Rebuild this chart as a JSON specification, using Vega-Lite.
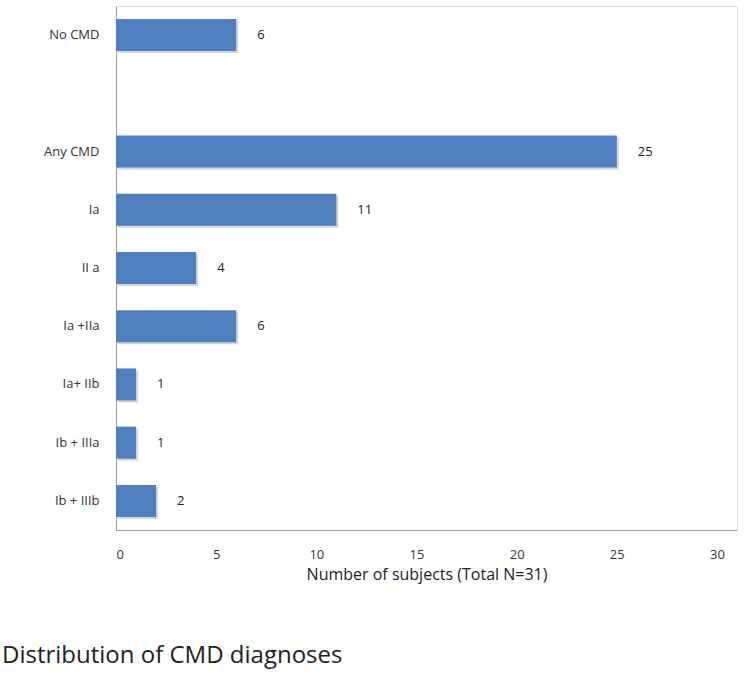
{
  "$schema": "https://vega.github.io/schema/vega-lite/v6.json",
  "width": 621,
  "height": 524,
  "autosize": {"type": "none"},
  "padding": {"left": 116, "top": 6, "right": 9, "bottom": 143},
  "background": "white",
  "title": {
    "text": "Distribution of CMD diagnoses",
    "orient": "bottom",
    "anchor": "start",
    "frame": "group",
    "dx": -114,
    "offset": 62,
    "fontSize": 24,
    "fontWeight": "normal",
    "font": "Open Sans",
    "color": "#222222"
  },
  "data": {
    "values": [
      {"category": "No CMD", "subjects": 6},
      {"category": "Any CMD", "subjects": 25},
      {"category": "Ia", "subjects": 11},
      {"category": "II a", "subjects": 4},
      {"category": "Ia +IIa", "subjects": 6},
      {"category": "Ia+ IIb", "subjects": 1},
      {"category": "Ib + IIIa", "subjects": 1},
      {"category": "Ib + IIIb", "subjects": 2}
    ]
  },
  "encoding": {
    "y": {
      "field": "category",
      "type": "nominal",
      "sort": null,
      "scale": {
        "domain": ["No CMD", "", "Any CMD", "Ia", "II a", "Ia +IIa", "Ia+ IIb", "Ib + IIIa", "Ib + IIIb"],
        "paddingInner": 0.45,
        "paddingOuter": 0.225
      },
      "axis": {
        "title": null,
        "ticks": false,
        "labelPadding": 17,
        "labelFontSize": 13,
        "labelFont": "Open Sans",
        "labelColor": "#333333",
        "domainColor": "#999999"
      }
    },
    "x": {
      "field": "subjects",
      "type": "quantitative",
      "scale": {"domain": [0, 31], "nice": false},
      "axis": {
        "title": "Number of subjects (Total N=31)",
        "values": [0, 5, 10, 15, 20, 25, 30],
        "grid": false,
        "ticks": false,
        "labelPadding": 18,
        "labelFontSize": 13,
        "labelFont": "Open Sans",
        "labelColor": "#333333",
        "titleFontSize": 16,
        "titleFont": "Open Sans",
        "titleFontWeight": "normal",
        "titleColor": "#222222",
        "titlePadding": 5,
        "domainColor": "#999999"
      }
    }
  },
  "layer": [
    {
      "mark": {"type": "bar", "color": "#bbbbbb", "opacity": 0.6, "xOffset": 2, "yOffset": 2}
    },
    {
      "mark": {"type": "bar", "color": "#4f7fbe"}
    },
    {
      "mark": {"type": "text", "align": "left", "dx": 21, "fontSize": 13, "font": "Open Sans", "color": "#222222"},
      "encoding": {"text": {"field": "subjects", "type": "quantitative"}}
    }
  ]
}
